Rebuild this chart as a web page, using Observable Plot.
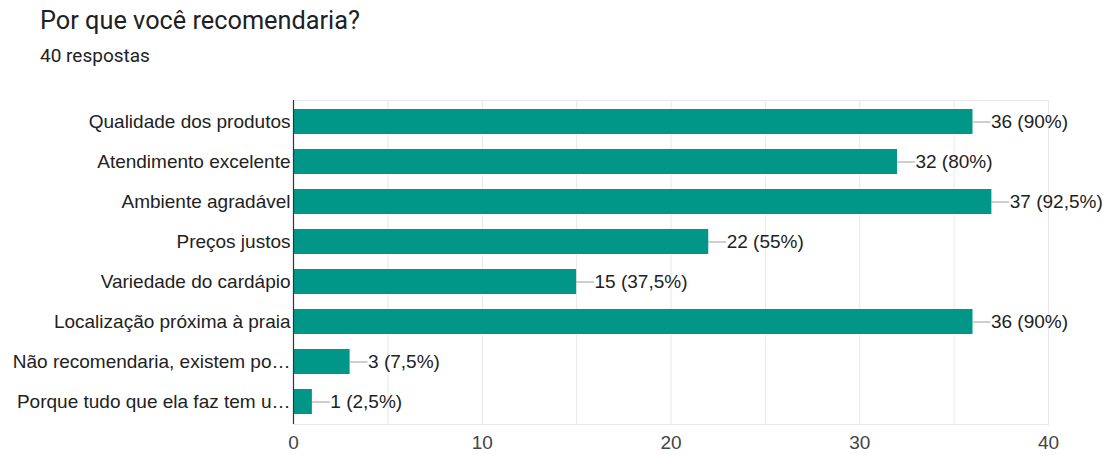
<!DOCTYPE html>
<html><head><meta charset="utf-8">
<script src="https://cdn.jsdelivr.net/npm/d3@7"></script>
<script src="https://cdn.jsdelivr.net/npm/@observablehq/plot@0.6"></script>
<style>
body{margin:0;background:#fff;width:1107px;height:455px;overflow:hidden;}
#head{height:80px;position:relative;font-family:Roboto,"Liberation Sans",sans-serif;}
#title{position:absolute;left:40px;top:4px;font-size:25.3px;line-height:34px;color:#202124;white-space:nowrap;}
#sub{position:absolute;left:40px;top:43px;font-size:19px;line-height:26px;color:#202124;white-space:nowrap;}
</style></head>
<body>
<div id="head"><div id="title">Por que você recomendaria?</div><div id="sub">40 respostas</div></div>
<div id="chart"></div>
<script>
const categories = [
  "Qualidade dos produtos",
  "Atendimento excelente",
  "Ambiente agradável",
  "Preços justos",
  "Variedade do cardápio",
  "Localização próxima à praia",
  "Não recomendaria, existem po…",
  "Porque tudo que ela faz tem u…"
];
const counts = [36, 32, 37, 22, 15, 36, 3, 1];
const percentLabels = ["90%", "80%", "92,5%", "55%", "37,5%", "90%", "7,5%", "2,5%"];
const xTicks = [0, 10, 20, 30, 40];
const total = 40;

const data = categories.map((c, i) => ({cat: c, value: counts[i], label: `${counts[i]} (${percentLabels[i]})`}));
const leader = 0.95;
const FS = 19;

const chart = Plot.plot({
  width: 1107,
  height: 375,
  marginTop: 20,
  marginBottom: 31,
  marginLeft: 293,
  marginRight: 59,
  style: {fontFamily: "'Liberation Sans', Arial, sans-serif", fontSize: FS + "px", color: "#222"},
  x: {domain: [0, total], ticks: xTicks, label: null},
  y: {domain: categories, label: null, paddingInner: 0.38, paddingOuter: 0.19},
  marks: [
    Plot.gridX({ticks: d3.range(0, total + 1, 5), stroke: "#e8e8e8", strokeOpacity: 1}),
    Plot.frame({stroke: "#e8e8e8"}),
    Plot.barX(data, {x: "value", y: "cat", fill: "#009688", dy: -1}),
    Plot.ruleY(data, {y: "cat", x1: "value", x2: d => d.value + leader, stroke: "#9e9e9e", strokeWidth: 1, dy: -1}),
    Plot.text(data, {y: "cat", x: d => d.value + leader, text: "label", textAnchor: "start", dx: 0, dy: -1, fill: "#222", fontSize: FS}),
    Plot.ruleX([0], {stroke: "#333", strokeWidth: 1.2}),
    Plot.axisX({ticks: xTicks, tickSize: 0, tickPadding: 11, fill: "#444", fontSize: FS}),
    Plot.axisY({tickSize: 0, tickPadding: 3, fill: "#222", fontSize: FS, dy: -1})
  ]
});
document.getElementById("chart").appendChild(chart);
</script>
</body></html>
